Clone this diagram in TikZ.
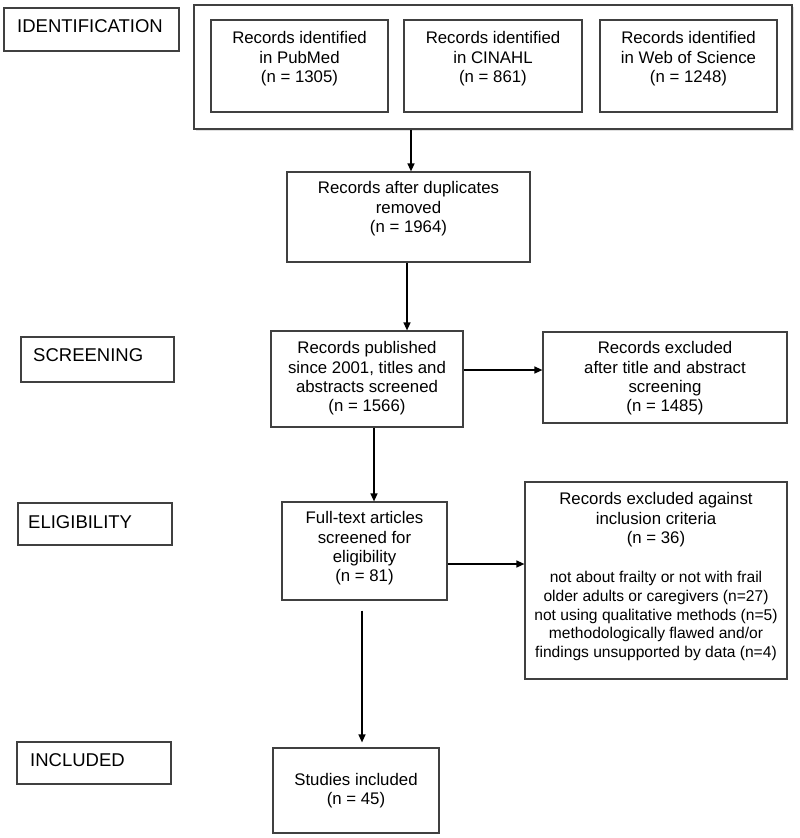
\documentclass[tikz,border=0pt]{standalone}
\usepackage{fontspec}
\setmainfont{Liberation Sans}
\usetikzlibrary{arrows.meta,fit,shadows}
\begin{document}
\begin{tikzpicture}[x=1pt,y=-1pt,
  box/.style={draw=black!75, line width=1.2pt, inner sep=0pt, fill=white},
  txt/.style={align=center, inner sep=0pt, font=\fontsize{16.8}{19.4}\selectfont},
  stxt/.style={align=center, inner sep=0pt, font=\fontsize{15.6}{18.6}\selectfont},
  ptxt/.style={inner sep=0pt, font=\fontsize{18.5}{22}\selectfont, anchor=base west},
  arr/.style={line width=1.4pt, -{Triangle[length=8pt,width=7pt]}}
]
\useasboundingbox (0,0) rectangle (800,838);
% phase labels
\node[box, fit={(4,8) (179,51)}] (identB) {};
\node[ptxt] (identT) at (17,32) {IDENTIFICATION};
\node[box, fit={(21,337) (174,382)}] (scrB) {};
\node[ptxt] (scrPT) at (33,361) {SCREENING};
\node[box, fit={(18,503) (172,545)}] (eligB) {};
\node[ptxt] (eligT) at (28,528) {ELIGIBILITY};
\node[box, fit={(17,742) (171,784)}] (inclB) {};
\node[ptxt] (inclT) at (30,766) {INCLUDED};
% identification group
\node[box, fit={(194,5) (792,129)}, drop shadow={shadow xshift=1.5pt,shadow yshift=-1.5pt,fill=black!25}] (group) {};
\node[box, fit={(211,20) (388,112)}] (pub) {};
\node[txt, anchor=north] (pubT) at ([yshift=-12pt]pub.north) {Records identified\\in PubMed\\(n = 1305)};
\node[box, fit={(404,20) (582,112)}] (cin) {};
\node[txt, anchor=north] (cinT) at ([yshift=-12pt]cin.north) {Records identified\\in CINAHL\\(n = 861)};
\node[box, fit={(600,20) (777,112)}] (wos) {};
\node[txt, anchor=north] (wosT) at ([yshift=-12pt]wos.north) {Records identified\\in Web of Science\\(n = 1248)};
% main flow
\node[box, fit={(287,172) (530,262)}] (dup) {};
\node[txt, anchor=north] (dupT) at ([yshift=-10pt]dup.north) {Records after duplicates\\removed\\(n = 1964)};
\node[box, fit={(271,331) (463,427)}] (scr) {};
\node[txt, anchor=north] (scrT) at ([yshift=-11pt]scr.north) {Records published\\since 2001, titles and\\abstracts screened\\(n = 1566)};
\node[box, fit={(543,332) (787,423)}] (ex1) {};
\node[txt, anchor=north] (ex1T) at ([yshift=-10pt]ex1.north) {Records excluded\\after title and abstract\\screening\\(n = 1485)};
\node[box, fit={(282,502) (447,600)}] (full) {};
\node[txt, anchor=north] (fullT) at ([yshift=-10pt]full.north) {Full-text articles\\screened for\\eligibility\\(n = 81)};
\node[box, fit={(525,482) (787,679)}] (ex2) {};
\node[txt, anchor=north] (ex2T) at ([yshift=-11pt]ex2.north) {Records excluded against\\inclusion criteria\\(n = 36)};
\node[stxt, anchor=north] (ex2L) at ([yshift=-90pt]ex2.north) {not about frailty or not with frail\\older adults or caregivers (n=27)\\not using qualitative methods (n=5)\\methodologically flawed and/or\\findings unsupported by data (n=4)};
\node[box, fit={(273,748) (439,833)}] (stud) {};
\node[txt] (studT) at (stud.center) {Studies included\\(n = 45)};
% connectors
\coordinate (c1) at (411,0);
\draw[arr] (group.south -| c1) -- (dup.north -| c1);
\coordinate (c2) at (407,0);
\draw[arr] (dup.south -| c2) -- (scr.north -| c2);
\coordinate (c3) at (0,370);
\draw[arr] (scr.east |- c3) -- (ex1.west |- c3);
\coordinate (c4) at (374,0);
\draw[arr] (scr.south -| c4) -- (full.north -| c4);
\coordinate (c5) at (0,564);
\draw[arr] (full.east |- c5) -- (ex2.west |- c5);
\coordinate (c6) at (362,0);
\draw[arr, shorten <=10pt, shorten >=5pt] (full.south -| c6) -- (stud.north -| c6);
\end{tikzpicture}
\end{document}
